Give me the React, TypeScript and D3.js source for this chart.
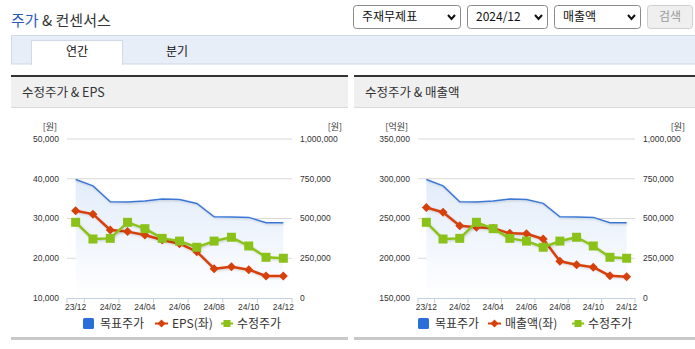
import React from 'react';
import * as d3 from 'd3';

const months = ['23/12','24/01','24/02','24/03','24/04','24/05','24/06','24/07','24/08','24/09','24/10','24/11','24/12'];
const tickLabels = ['23/12','24/02','24/04','24/06','24/08','24/10','24/12'];
const targetPrice = [745000,705000,605000,604000,610000,622000,620000,595000,511000,509000,507000,474000,474000];
const adjPrice = [476000,371000,375000,476000,436000,375000,358000,319000,358000,382000,327000,256000,250000];
const eps = [31960,31100,27100,26700,25850,24600,23660,21650,17370,17870,17120,15530,15530];
const revenue = [263800,257800,240900,238900,237700,231300,230900,224200,196200,191900,188700,177900,176700];
const epsTicks = [10000,20000,30000,40000,50000];
const revTicks = [150000,200000,250000,300000,350000];
const priceTicks = [0,250000,500000,750000,1000000];
const selects = ['주재무제표','2024/12','매출액'];

const FONT = "'Liberation Sans', Arial, 'Noto Sans CJK KR', sans-serif";
const KFONT = "'Noto Sans CJK KR', 'Liberation Sans', sans-serif";
const BLUE = '#3a78d6';
const RED = '#d6400b';
const GREEN = '#8bc21a';
const TOP = 139, BOT = 298;
const fmt = d3.format(',');

type ChartProps = {
  id: string; left: number; right: number; leftTicks: number[]; leftUnit: string;
  lineData: number[]; lineLabel: string; legend: number[];
};

function Chart({ id, left, right, leftTicks, leftUnit, lineData, lineLabel, legend }: ChartProps) {
  const x = d3.scaleBand<string>().domain(months).range([left, right]);
  const bw = x.bandwidth();
  const cx = (i: number) => (x(months[i]) as number) + bw / 2;
  const yL = d3.scaleLinear().domain([leftTicks[0], leftTicks[leftTicks.length - 1]]).range([BOT, TOP]);
  const yR = d3.scaleLinear().domain([0, 1000000]).range([BOT, TOP]);
  const area = d3.area<number>().x((_, i) => cx(i)).y0(yR(0)).y1(d => yR(d));
  const lineR = d3.line<number>().x((_, i) => cx(i)).y(d => yR(d));
  const lineL = d3.line<number>().x((_, i) => cx(i)).y(d => yL(d));
  const tickIdx = [0, 1, 3, 5, 7, 9, 11, 13];
  const [bx, rx, gx] = legend;
  const ly = 323.5;
  return (
    <g>
      <defs>
        <linearGradient id={`ag${id}`} x1="0" y1="0" x2="0" y2="1">
          <stop offset="0%" stopColor="#e2ecfa" />
          <stop offset="100%" stopColor="#ffffff" />
        </linearGradient>
      </defs>
      {leftTicks.map((t, i) => (
        <g key={t}>
          {i > 0 && <line x1={left} x2={right} y1={yL(t)} y2={yL(t)} stroke="#d9d9d9" strokeWidth={1} />}
          <text x={left - 8} y={yL(t)} dy="0.35em" textAnchor="end" fontSize={8.5} fill="#333" fontFamily={FONT}>{fmt(t)}</text>
        </g>
      ))}
      {priceTicks.map(t => (
        <text key={t} x={right + 8} y={yR(t)} dy="0.35em" fontSize={8.5} fill="#333" fontFamily={FONT}>{fmt(t)}</text>
      ))}
      <text x={left - 10} y={127} dy="0.35em" textAnchor="end" fontSize={9} fill="#333" fontFamily={KFONT}>{leftUnit}</text>
      <text x={right + 50} y={127} dy="0.35em" textAnchor="end" fontSize={9} fill="#333" fontFamily={KFONT}>[원]</text>
      <path d={area(targetPrice) as string} fill={`url(#ag${id})`} />
      <path d={lineR(targetPrice) as string} fill="none" stroke={BLUE} strokeWidth={1.5} filter="url(#sh)" />
      <line x1={left} x2={right} y1={BOT + 0.5} y2={BOT + 0.5} stroke="#c3d0e0" strokeWidth={1} />
      {tickIdx.map(k => {
        const tx = left + k * bw;
        return <line key={k} x1={tx} x2={tx} y1={BOT} y2={BOT + 5} stroke="#c3d0e0" strokeWidth={1} />;
      })}
      {tickLabels.map(m => (
        <text key={m} x={(x(m) as number) + bw / 2} y={307.5} dy="0.35em" textAnchor="middle" fontSize={8.5} fill="#333" fontFamily={FONT}>{m}</text>
      ))}
      <path d={lineL(lineData) as string} fill="none" stroke={RED} strokeWidth={2.5} strokeLinejoin="round" filter="url(#sh)" />
      {lineData.map((d, i) => (
        <path key={i} d={`M${cx(i)},${yL(d) - 4.5}L${cx(i) + 4.5},${yL(d)}L${cx(i)},${yL(d) + 4.5}L${cx(i) - 4.5},${yL(d)}Z`} fill={RED} />
      ))}
      <path d={lineR(adjPrice) as string} fill="none" stroke={GREEN} strokeWidth={2.5} strokeLinejoin="round" filter="url(#sh)" />
      {adjPrice.map((d, i) => (
        <rect key={i} x={cx(i) - 4.5} y={yR(d) - 4.5} width={9} height={9} fill={GREEN} />
      ))}
      {/* legend */}
      <rect x={bx} y={ly - 5.5} width={11} height={11} rx={1.5} fill="#2a6fd8" />
      <text x={bx + 17} y={ly} dy="0.35em" fontSize={12} fill="#333" fontFamily={KFONT}>목표주가</text>
      <line x1={rx} x2={rx + 13} y1={ly} y2={ly} stroke={RED} strokeWidth={2} />
      <path d={`M${rx + 6.5},${ly - 4}L${rx + 10.5},${ly}L${rx + 6.5},${ly + 4}L${rx + 2.5},${ly}Z`} fill={RED} />
      <text x={rx + 17} y={ly} dy="0.35em" fontSize={12} fill="#333" fontFamily={KFONT}>{lineLabel}</text>
      <line x1={gx} x2={gx + 12} y1={ly} y2={ly} stroke={GREEN} strokeWidth={2} />
      <rect x={gx + 2.5} y={ly - 3.5} width={7} height={7} fill={GREEN} />
      <text x={gx + 16} y={ly} dy="0.35em" fontSize={12} fill="#333" fontFamily={KFONT}>수정주가</text>
    </g>
  );
}

function Panel({ x0, x1, title }: { x0: number; x1: number; title: string }) {
  return (
    <g>
      <rect x={x0} y={75} width={x1 - x0} height={2} fill="#333" />
      <rect x={x0} y={77} width={x1 - x0} height={30} fill="#f0f0f0" />
      <rect x={x0} y={107} width={x1 - x0} height={1} fill="#d9d9d9" />
      <text x={x0 + 11} y={93} dy="0.35em" fontSize={12.5} fill="#333" fontFamily={KFONT}>{title}</text>
      <rect x={x0} y={337} width={x1 - x0} height={3} fill="#c8c8c8" />
    </g>
  );
}

export default function App() {
  const selBoxes = [[353, 107], [467, 80], [554, 86]];
  return (
    <div style={{ position: 'fixed', left: 0, top: 0 }}>
      <svg width={695} height={349} style={{ display: 'block', background: '#fff' }}>
        <defs>
          <filter id="sh" x="-5%" y="-20%" width="110%" height="140%">
            <feDropShadow dx={1} dy={1} stdDeviation={1} floodColor="#000" floodOpacity={0.18} />
          </filter>
        </defs>
        {/* header */}
        <text x={11} y={21} dy="0.35em" fontSize={15} fontFamily={KFONT}>
          <tspan fill="#2d5bb9">주가</tspan><tspan fill="#333"> &amp; 컨센서스</tspan>
        </text>
        {selBoxes.map(([sx, sw], i) => (
          <g key={i}>
            <rect x={sx + 0.5} y={5.5} width={sw} height={23} rx={3} fill="#fff" stroke="#8a8a8a" />
            <text x={sx + 9} y={17} dy="0.35em" fontSize={12} fill="#111" fontFamily={KFONT}>{selects[i]}</text>
            <path d={`M${sx + sw - 12},${15}L${sx + sw - 8.5},${19}L${sx + sw - 5},${15}`} fill="none" stroke="#111" strokeWidth={2} />
          </g>
        ))}
        <rect x={647.5} y={5.5} width={45} height={23} rx={3} fill="#efefef" stroke="#cfcfcf" />
        <text x={670} y={17} dy="0.35em" textAnchor="middle" fontSize={12} fill="#9a9a9a" fontFamily={KFONT}>검색</text>
        {/* tabs */}
        <rect x={11.5} y={35.5} width={690} height={28.5} fill="#e8eef8" stroke="#d0d9e6" />
        <rect x={31.5} y={40.5} width={91} height={24} fill="#fff" stroke="#d0d9e6" />
        <rect x={32} y={63} width={90} height={2} fill="#fff" />
        <text x={77} y={52} dy="0.35em" textAnchor="middle" fontSize={12} fill="#111" fontFamily={KFONT}>연간</text>
        <text x={177} y={52} dy="0.35em" textAnchor="middle" fontSize={12} fill="#111" fontFamily={KFONT}>분기</text>
        <Panel x0={11} x1={348} title="수정주가 & EPS" />
        <Panel x0={354} x1={695} title="수정주가 & 매출액" />
        <Chart id="a" left={67} right={292} leftTicks={epsTicks} leftUnit="[원]" lineData={eps} lineLabel="EPS(좌)" legend={[83, 155, 221]} />
        <Chart id="b" left={418} right={635} leftTicks={revTicks} leftUnit="[억원]" lineData={revenue} lineLabel="매출액(좌)" legend={[418, 488, 572]} />
      </svg>
    </div>
  );
}
